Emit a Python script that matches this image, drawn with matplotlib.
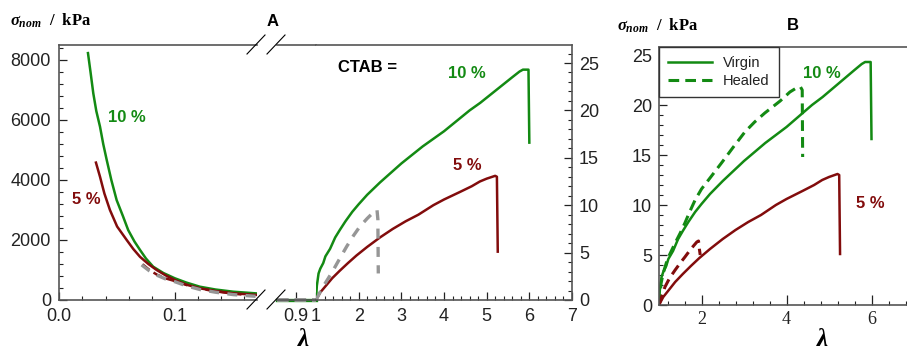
import matplotlib
matplotlib.use("Agg")
import matplotlib.pyplot as plt
from matplotlib.ticker import MultipleLocator, FormatStrFormatter
from matplotlib.lines import Line2D

plt.rcParams['font.family'] = ['Liberation Sans', 'DejaVu Sans']
plt.rcParams['mathtext.fontset'] = 'custom'
plt.rcParams['mathtext.it'] = 'Liberation Serif:italic:bold'
plt.rcParams['mathtext.rm'] = 'Liberation Serif:bold'

# ---- data ----
# panel A, left segment (x 0 .. 0.17, stress in kPa on the left axis)
a_left_x_10 = [0.0248, 0.027, 0.0294, 0.032, 0.0352, 0.038, 0.041, 0.045, 0.0496, 0.055, 0.0596,
               0.065, 0.0698, 0.075, 0.0812, 0.09, 0.1, 0.11, 0.1216, 0.135, 0.1504, 0.1706]
a_left_y_10 = [8230, 7600, 6890, 6300, 5780, 5200, 4670, 4000, 3330, 2800, 2330,
               1950, 1670, 1380, 1110, 900, 723, 580, 443, 350, 277, 220]
a_left_x_5 = [0.0317, 0.0352, 0.039, 0.0438, 0.05, 0.0583, 0.064, 0.0698, 0.077, 0.0842, 0.092,
              0.1, 0.11, 0.1216, 0.135, 0.1504, 0.1706]
a_left_y_5 = [4580, 4110, 3550, 3000, 2450, 2000, 1700, 1440, 1200, 1000, 820,
              667, 510, 390, 300, 223, 170]
a_left_x_5d = [0.072, 0.078, 0.0842, 0.092, 0.1, 0.11, 0.1216, 0.135, 0.1504, 0.1706]
a_left_y_5d = [1190, 1000, 850, 720, 630, 500, 380, 290, 210, 140]
a_left_x_gray = [0.0712, 0.078, 0.0842, 0.092, 0.1, 0.11, 0.1216, 0.135, 0.1504, 0.1706]
a_left_y_gray = [1170, 970, 830, 700, 610, 470, 350, 260, 180, 120]

# panel A, short segment below lambda = 1 (flat at zero)
a_mid_x = [0.805, 1.0]
a_mid_y = [0, 0]

# virgin curves (panel A right segment and panel B)
lam_10 = [1.0, 1.02, 1.06, 1.1, 1.17, 1.22, 1.33, 1.45, 1.56, 1.69, 1.85, 2.0, 2.2, 2.5, 2.75,
          3.0, 3.25, 3.5, 3.75, 4.0, 4.3, 4.6, 4.85, 5.1, 5.35, 5.6, 5.77, 5.85, 5.98, 6.0]
sig_10 = [0, 1.5, 2.8, 3.3, 3.9, 4.6, 5.4, 6.6, 7.4, 8.3, 9.3, 10.1, 11.1, 12.4, 13.4,
          14.4, 15.3, 16.2, 17.0, 17.8, 18.9, 20.0, 20.8, 21.7, 22.6, 23.5, 24.1, 24.3, 24.3, 16.6]
lam_5 = [1.0, 1.1, 1.25, 1.38, 1.56, 1.75, 1.95, 2.2, 2.5, 2.8, 3.1, 3.4, 3.75, 4.0, 4.375,
         4.65, 4.84, 5.0, 5.2, 5.24, 5.26]
sig_5 = [0, 0.8, 1.6, 2.3, 3.1, 3.9, 4.7, 5.6, 6.6, 7.5, 8.3, 9.0, 10.0, 10.6, 11.4,
         12.0, 12.5, 12.8, 13.1, 13.0, 5.1]

# gray dashed curve in panel A
lam_gray = [1.0, 1.08, 1.17, 1.29, 1.41, 1.56, 1.72, 1.88, 2.03, 2.2, 2.38, 2.43, 2.45, 2.46]
sig_gray = [0, 0.7, 1.44, 2.3, 3.2, 4.4, 5.65, 6.8, 7.76, 8.6, 9.4, 9.5, 8.5, 2.8]

# healed curves (panel B)
lam_10h = [1.0, 1.05, 1.1, 1.2, 1.38, 1.5, 1.61, 1.72, 1.85, 2.0, 2.2, 2.47, 2.75, 3.02, 3.25,
           3.49, 3.7, 3.85, 4.08, 4.27, 4.33, 4.37, 4.38]
sig_10h = [0, 2.2, 3.2, 4.6, 6.2, 7.2, 8.2, 9.3, 10.5, 11.6, 12.7, 14.2, 15.8, 17.3, 18.3,
           19.2, 19.9, 20.4, 21.3, 21.8, 21.8, 21.5, 14.8]
lam_5h = [1.0, 1.07, 1.14, 1.25, 1.38, 1.5, 1.61, 1.75, 1.89, 1.93, 1.95, 1.97]
sig_5h = [0, 0.9, 1.8, 2.7, 3.5, 4.2, 4.8, 5.6, 6.3, 6.4, 5.6, 5.0]

GREEN = '#138a13'
RED = '#820c0c'
GRAY = '#969696'
SPINE = '#555555'

W, H = 907, 356


def fx(p):
    return p / W


def fy(p):
    return 1 - p / H


def box(x0, x1, ytop, ybot):
    return [fx(x0), fy(ybot), (x1 - x0) / W, (ybot - ytop) / H]


fig = plt.figure(figsize=(9.07, 3.56), dpi=100)

axL = fig.add_axes(box(59.3, 257, 45, 300))
axM = fig.add_axes(box(277, 316, 45, 300))
axR = fig.add_axes(box(316, 572, 45, 300))
axB = fig.add_axes(box(659, 914, 47, 305))

for ax in (axL, axM, axR, axB):
    for s in ax.spines.values():
        s.set_color(SPINE)
        s.set_linewidth(1.2)
    ax.tick_params(which='both', direction='in', labelsize=13, colors='#222222')
    ax.tick_params(which='major', length=5.5, width=0.9)
    ax.tick_params(which='minor', length=3, width=0.8)

lw = 1.8
dash = (3.5, 2)

# ---- panel A, left ----
axL.plot(a_left_x_10, a_left_y_10, color=GREEN, lw=lw)
axL.plot(a_left_x_5, a_left_y_5, color=RED, lw=lw)
axL.plot(a_left_x_5d, a_left_y_5d, color=RED, lw=lw, dashes=dash)
axL.plot(a_left_x_gray, a_left_y_gray, color=GRAY, lw=2.4, dashes=(3, 2.5))
axL.set_xlim(0, 0.171)
axL.set_ylim(0, 8500)
axL.xaxis.set_major_locator(MultipleLocator(0.1))
axL.xaxis.set_minor_locator(MultipleLocator(0.02))
axL.xaxis.set_major_formatter(FormatStrFormatter('%.1f'))
axL.yaxis.set_major_locator(MultipleLocator(2000))
axL.yaxis.set_minor_locator(MultipleLocator(400))
axL.spines['right'].set_visible(False)
axL.tick_params(axis='y', pad=6)
axL.tick_params(axis='x', pad=6)

# ---- panel A, middle ----
axM.plot(a_mid_x, a_mid_y, color=GREEN, lw=2.4, clip_on=False)
axM.plot(a_mid_x, a_mid_y, color=GRAY, lw=2.8, dashes=(3, 1.5), clip_on=False)
axM.set_xlim(0.805, 1.0)
axM.set_ylim(0, 26.9)
axM.set_xticks([0.9])
axM.set_xticklabels(['0.9'])
axM.set_yticks([])
axM.spines['left'].set_visible(False)
axM.spines['right'].set_visible(False)
axM.tick_params(axis='x', pad=6)

# ---- panel A, right ----
axR.plot(lam_10, sig_10, color=GREEN, lw=lw)
axR.plot(lam_5, sig_5, color=RED, lw=lw)
axR.plot(lam_gray, sig_gray, color=GRAY, lw=2.4, dashes=(3, 2.5))
axR.set_xlim(1, 7)
axR.set_ylim(0, 26.9)
axR.xaxis.set_major_locator(MultipleLocator(1))
axR.xaxis.set_minor_locator(MultipleLocator(0.2))
axR.yaxis.set_major_locator(MultipleLocator(5))
axR.yaxis.set_minor_locator(MultipleLocator(1))
axR.yaxis.tick_right()
axR.tick_params(which='both', left=False, right=True, labelleft=False, labelright=True)
axR.tick_params(axis='y', pad=5)
axR.tick_params(axis='x', pad=6)
axR.spines['left'].set_visible(False)

# ---- panel B ----
axB.plot(lam_10, sig_10, color=GREEN, lw=lw, label='Virgin')
axB.plot(lam_10h, sig_10h, color=GREEN, lw=2.2, dashes=dash, label='Healed')
axB.plot(lam_5, sig_5, color=RED, lw=lw)
axB.plot(lam_5h, sig_5h, color=RED, lw=2.2, dashes=dash)
axB.set_xlim(1, 7)
axB.set_ylim(0, 25.8)
axB.set_xticks([2, 4, 6])
axB.set_xticklabels(['2', '4', '6'], fontfamily='Liberation Serif', fontsize=13)
axB.xaxis.set_minor_locator(MultipleLocator(0.4))
axB.yaxis.set_major_locator(MultipleLocator(5))
axB.yaxis.set_minor_locator(MultipleLocator(1))
axB.spines['right'].set_visible(False)
axB.tick_params(axis='x', which='major', length=7, pad=4)
axB.tick_params(axis='y', pad=5)
leg = axB.legend(loc='upper left', bbox_to_anchor=(0, 1), borderaxespad=0,
                 fancybox=False, edgecolor='#333333', framealpha=1,
                 fontsize=10.5, handlelength=3.0, handletextpad=0.8,
                 borderpad=0.6, labelspacing=0.3)
leg.get_frame().set_linewidth(1.0)
for t in leg.get_texts():
    t.set_color('#222222')

# ---- axis break marks ----
for yy in (45, 300):
    for x0 in (247, 267):
        fig.add_artist(Line2D([fx(x0), fx(x0 + 18)], [fy(yy + 9), fy(yy - 10)],
                              color='black', lw=0.8))

# ---- texts ----
ylab = r'$\sigma_{nom}$  /  kPa'
fig.text(fx(10), fy(21), ylab, fontsize=12, fontfamily='Liberation Serif',
         fontweight='bold', va='center', ha='left')
fig.text(fx(617), fy(26), ylab, fontsize=12, fontfamily='Liberation Serif',
         fontweight='bold', va='center', ha='left')
fig.text(fx(273), fy(22), 'A', fontsize=12, fontweight='bold', ha='center', va='center')
fig.text(fx(793), fy(25), 'B', fontsize=12, fontweight='bold', ha='center', va='center')

lab = dict(fontsize=12, fontweight='bold', ha='center', va='center')
fig.text(fx(127), fy(118), '10 %', color=GREEN, **lab)
fig.text(fx(86), fy(200), '5 %', color=RED, **lab)
fig.text(fx(367), fy(68), 'CTAB =', color='black', **lab)
fig.text(fx(467), fy(73), '10 %', color=GREEN, **lab)
fig.text(fx(467), fy(165), '5 %', color=RED, **lab)
fig.text(fx(822), fy(73), '10 %', color=GREEN, **lab)
fig.text(fx(870), fy(203), '5 %', color=RED, **lab)

lamkw = dict(fontsize=18, fontfamily='Liberation Serif', fontstyle='italic',
             fontweight='bold', ha='center', va='center')
fig.text(fx(303), fy(340), 'λ', **lamkw)
fig.text(fx(822), fy(340), 'λ', **lamkw)

fig.savefig('out.png', dpi=100)
